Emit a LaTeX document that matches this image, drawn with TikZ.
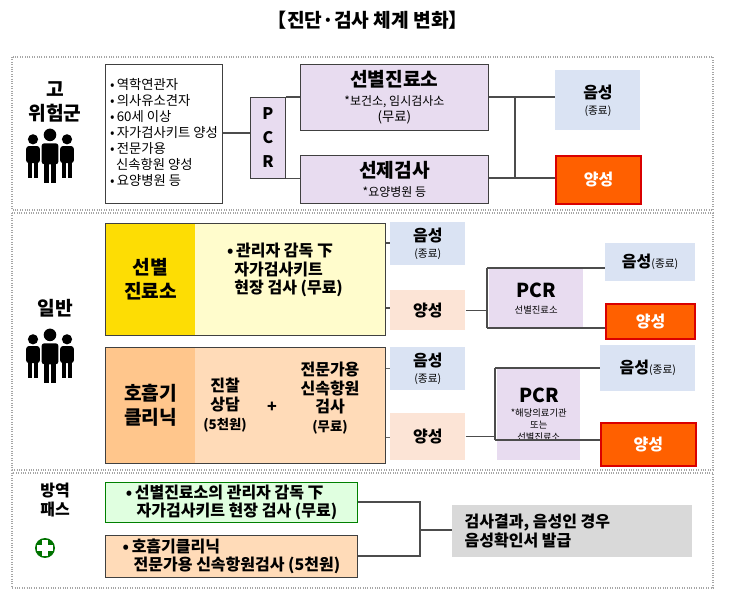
\documentclass[tikz,border=0pt]{standalone}
\usepackage{fontspec}
\setmainfont{Noto Sans CJK KR}
\definecolor{cblu}{HTML}{DAE3F3}
\definecolor{clav}{HTML}{E8DCF0}
\definecolor{cpch}{HTML}{FCE4D6}
\begin{document}
\begin{tikzpicture}[x=0.75pt,y=-0.75pt,
 sec/.style={draw=gray!70,densely dotted,line width=0.8pt},
 bx/.style={draw=black!75,line width=0.7pt,inner sep=0pt,align=center},
 lav/.style={bx,fill=clav},
 blu/.style={bx,draw=none,fill=cblu},
 pch/.style={bx,draw=none,fill=cpch},
 red/.style={bx,draw=red!85!black,line width=1.5pt,fill=orange!75!red,text=white,font=\bfseries\large},
 ln/.style={draw=black!70,line width=0.8pt},
 dl/.style={draw=black!60,dashed,line width=0.7pt},
 fig/.style={fill=black}]
\useasboundingbox (0,0) rectangle (736,598);
\node[font=\bfseries\Large] (title) at (368,20) {【진단·검사 체계 변화】};
\draw[sec] (12,57) rectangle (713,210);
\draw[sec] (12,213) rectangle (713,470);
\draw[sec] (12,473) rectangle (713,588);
\newcommand{\people}[2]{%
 \begin{scope}[shift={(#1,#2)}]
 \foreach \dx/\s in {-17/0.85,17/0.85,0/1.05}{
  \fill[black] (\dx,-22*\s) circle (6*\s);
  \fill[black,rounded corners=2pt] (\dx-8*\s,-14*\s) rectangle (\dx+8*\s,6*\s);
  \fill[black] (\dx-6*\s,4*\s) rectangle (\dx-1*\s,24*\s);
  \fill[black] (\dx+1*\s,4*\s) rectangle (\dx+6*\s,24*\s);}
 \end{scope}}
% Section 1
\node[font=\bfseries\Large,align=center] (s1) at (55,102) {고\\위험군};
\people{50}{158}
\node[bx,fill=white,minimum width=117pt*0.75,minimum height=139pt*0.75,anchor=north west,align=left,font=\normalsize] (list) at (105,64) {%
\begin{tabular}{@{}l@{}}•\,역학연관자\\•\,의사유소견자\\•\,60세 이상\\•\,자가검사키트 양성\\•\,전문가용\\\ \ 신속항원 양성\\•\,요양병원 등\end{tabular}};
\node[lav,minimum width=26.25pt,minimum height=60.75pt,anchor=north west,font=\bfseries\large] (pcr1) at (250,97) {P\\[4pt]C\\[4pt]R};
\node[lav,minimum width=141pt,minimum height=49.5pt,anchor=north west] (sb) at (300,64) {{\bfseries\Large 선별진료소}\\[2pt]{\small *보건소, 임시검사소}\\(무료)};
\node[lav,minimum width=141pt,minimum height=36pt,anchor=north west] (sj) at (300,155) {{\bfseries\Large 선제검사}\\[2pt]{\small *요양병원 등}};
\node[blu,minimum width=63.75pt,minimum height=45pt,anchor=north west] (n1) at (555,70) {{\bfseries\large 음성}\\{\footnotesize (종료)}};
\node[red,minimum width=63.75pt,minimum height=36pt,anchor=north west] (p1) at (555,155) {양성};
\coordinate (j1) at (515,97); \coordinate (j2) at (515,178);
\draw[ln] (list.east|-0,133) -- (pcr1.west|-0,133);
\draw[ln] (pcr1.north east) -- (sb.west|-pcr1.north);
\draw[ln] (pcr1.south east) -- (sj.west|-pcr1.south);
\draw[ln] (sb.east|-j1) -- (n1.west|-j1);
\draw[ln] (sj.east|-j2) -- (p1.west|-j2);
\draw[ln] (j1) -- (j2);
% Section 2
\node[font=\bfseries\Large] (s2) at (55,308) {일반};
\people{50}{358}
\node[bx,fill=yellow!20,minimum width=210pt,minimum height=84pt,anchor=north west] (yb) at (105,223) {};
\node[bx,draw=none,fill=yellow!80!orange,minimum width=67pt,minimum height=83pt,anchor=north west,font=\bfseries\Large] (ybl) at (105.5,223.5) {선별\\진료소};
\draw[black!75,line width=0.7pt] (yb.north west) rectangle (yb.south east);
\node[font=\bfseries\large,align=left] (ybt) at (285,270) {•\,관리자 감독 下\\\ \ 자가검사키트\\\ \ 현장 검사 (무료)};
\node[blu,minimum width=56pt,minimum height=32pt,anchor=north west] (n2) at (390,222) {{\bfseries\large 음성}\\{\footnotesize (종료)}};
\node[pch,minimum width=56pt,minimum height=30pt,anchor=north west,font=\bfseries\large] (q2) at (390,290) {양성};
\draw[ln] (yb.east|-0,243) -- (n2.west|-0,243);
\draw[ln] (yb.east|-0,308) -- (q2.west|-0,308);
\node[lav,draw=none,minimum width=70pt,minimum height=45pt,anchor=north west] (pcr2) at (489,268) {{\bfseries\Large PCR}\\{\scriptsize 선별진료소}};
\node[blu,minimum width=67pt,minimum height=28pt,anchor=north west] (n3) at (605,243) {{\bfseries\large 음성}{\footnotesize (종료)}};
\node[red,minimum width=67pt,minimum height=26pt,anchor=north west] (p3) at (605,303) {양성};
\coordinate (k1) at (487,268); \coordinate (k2) at (487,328);
\draw[ln] (q2.east) -- (k1|-q2.east);
\draw[ln] (k1) -- (k2);
\draw[ln] (k1) -- (n3.west|-k1);
\draw[ln] (k2) -- (p3.west|-k2);
\node[bx,fill=orange!28,minimum width=210pt,minimum height=87pt,anchor=north west] (ob) at (105,347) {};
\node[bx,draw=none,fill=orange!45,minimum width=67pt,minimum height=86pt,anchor=north west,font=\bfseries\Large] (obl) at (105.5,347.5) {호흡기\\클리닉};
\draw[black!75,line width=0.7pt] (ob.north west) rectangle (ob.south east);
\node[font=\bfseries\large,align=center] (ob1) at (225,405) {진찰\\상담\\{\normalsize(5천원)}};
\node[font=\bfseries\large] (plus) at (272,407) {+};
\node[font=\bfseries\large,align=center] (ob2) at (330,398) {전문가용\\신속항원\\검사\\{\normalsize(무료)}};
\node[blu,minimum width=56pt,minimum height=32pt,anchor=north west] (n4) at (390,347) {{\bfseries\large 음성}\\{\footnotesize (종료)}};
\node[pch,minimum width=56pt,minimum height=35pt,anchor=north west,font=\bfseries\large] (q4) at (390,413) {양성};
\draw[dl] (ob.east|-0,368) -- (n4.west|-0,368);
\draw[dl] (ob.east|-0,437) -- (q4.west|-0,437);
\node[lav,draw=none,minimum width=62pt,minimum height=69pt,anchor=north west] (pcr3) at (497,368) {{\bfseries\Large PCR}\\[-2pt]{\scriptsize *해당의료기관}\\[-3pt]{\scriptsize 또는}\\[-3pt]{\scriptsize 선별진료소}};
\node[blu,minimum width=71pt,minimum height=34pt,anchor=north west] (n5) at (600,345) {{\bfseries\large 음성}{\footnotesize (종료)}};
\node[red,minimum width=71pt,minimum height=32pt,anchor=north west] (p5) at (600,422) {양성};
\coordinate (m1) at (495,368); \coordinate (m2) at (495,440);
\draw[ln] (q4.east) -- (m1|-q4.east);
\draw[ln] (m1) -- (m2);
\draw[ln] (m1) -- (n5.west|-m1);
\draw[ln] (m2) -- (p5.west|-m2);
% Section 3
\node[font=\bfseries\large,align=center] (s3) at (55,500) {방역\\패스};
\fill[green!45!black] (45,548) circle (10);
\fill[white] (42,540) rectangle (48,556); \fill[white] (37,545) rectangle (53,551);
\node[bx,draw=green!50!black,fill=green!12,minimum width=189pt,minimum height=30pt,anchor=north west,font=\bfseries\large,align=left] (g1) at (105,482) {•\,선별진료소의 관리자 감독 下\\\ \ \ 자가검사키트 현장 검사 (무료)};
\node[bx,fill=orange!28,minimum width=189pt,minimum height=31.5pt,anchor=north west,font=\bfseries\large,align=left] (g2) at (105,535) {•\,호흡기클리닉\\\ \ \ 전문가용 신속항원검사 (5천원)};
\node[bx,draw=none,fill=black!15,minimum width=180pt,minimum height=39pt,anchor=north west] (gr) at (452,505) {};
\node[font=\bfseries\large,align=left,anchor=west] (grt) at (460,531) {검사결과, 음성인 경우\\음성확인서 발급};
\coordinate (r1) at (420,502); \coordinate (r2) at (420,556);
\draw[ln] (g1.east|-r1) -- (r1) -- (r2) -- (g2.east|-r2);
\draw[ln] (420,530) -- (gr.west|-0,530);
\end{tikzpicture}
\end{document}
